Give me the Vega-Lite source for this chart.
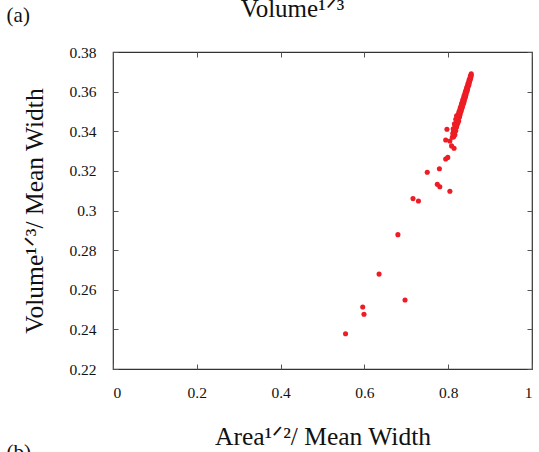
{
  "$schema": "https://vega.github.io/schema/vega-lite/v6.json",
  "autosize": {"type": "none"},
  "width": 419,
  "height": 317,
  "padding": {"left": 113, "top": 52, "right": 7, "bottom": 83},
  "background": "white",
  "title": {"text": "Volume¹ᐟ³", "font": "Liberation Serif", "fontSize": 25, "fontWeight": "normal", "color": "#111", "anchor": "middle", "offset": 0, "dy": 37, "dx": -30, "baseline": "alphabetic"},
  "config": {
    "view": {"stroke": "#333", "strokeWidth": 1.2},
    "axis": {"grid": false, "domain": false, "labelFont": "Liberation Serif", "labelFontSize": 15.5, "labelColor": "#111", "titleFont": "Liberation Serif", "titleFontSize": 25.5, "titleFontWeight": "normal", "titleColor": "#111", "tickColor": "#555", "tickSize": -5}
  },
  "data": {"values": [
    {"x": 0.555, "y": 0.2378},
    {"x": 0.596, "y": 0.2513},
    {"x": 0.599, "y": 0.2476},
    {"x": 0.635, "y": 0.2679},
    {"x": 0.697, "y": 0.2548},
    {"x": 0.680, "y": 0.2878},
    {"x": 0.716, "y": 0.3060},
    {"x": 0.729, "y": 0.3048},
    {"x": 0.750, "y": 0.3193},
    {"x": 0.779, "y": 0.3211},
    {"x": 0.774, "y": 0.3132},
    {"x": 0.780, "y": 0.3120},
    {"x": 0.804, "y": 0.3097},
    {"x": 0.794, "y": 0.3260},
    {"x": 0.799, "y": 0.3268},
    {"x": 0.797, "y": 0.3410},
    {"x": 0.794, "y": 0.3356},
    {"x": 0.804, "y": 0.3351},
    {"x": 0.808, "y": 0.3326},
    {"x": 0.814, "y": 0.3314},
    {"x": 0.810, "y": 0.3370}, {"x": 0.813, "y": 0.3372},
    {"x": 0.812, "y": 0.3380}, {"x": 0.816, "y": 0.3382},
    {"x": 0.811, "y": 0.3390}, {"x": 0.815, "y": 0.3392},
    {"x": 0.813, "y": 0.3400}, {"x": 0.818, "y": 0.3402},
    {"x": 0.815, "y": 0.3410}, {"x": 0.812, "y": 0.3412},
    {"x": 0.817, "y": 0.3420}, {"x": 0.820, "y": 0.3422},
    {"x": 0.816, "y": 0.3430}, {"x": 0.821, "y": 0.3432},
    {"x": 0.819, "y": 0.3440}, {"x": 0.823, "y": 0.3442}, {"x": 0.815, "y": 0.3438},
    {"x": 0.820, "y": 0.3450}, {"x": 0.825, "y": 0.3452},
    {"x": 0.818, "y": 0.3460}, {"x": 0.824, "y": 0.3462},
    {"x": 0.822, "y": 0.3470}, {"x": 0.827, "y": 0.3472},
    {"x": 0.823, "y": 0.3480}, {"x": 0.828, "y": 0.3482}, {"x": 0.820, "y": 0.3478},
    {"x": 0.825, "y": 0.3490}, {"x": 0.829, "y": 0.3492},
    {"x": 0.826, "y": 0.3500}, {"x": 0.831, "y": 0.3502},
    {"x": 0.828, "y": 0.3510}, {"x": 0.832, "y": 0.3512},
    {"x": 0.829, "y": 0.3520}, {"x": 0.834, "y": 0.3522},
    {"x": 0.831, "y": 0.3530}, {"x": 0.835, "y": 0.3532},
    {"x": 0.832, "y": 0.3540}, {"x": 0.837, "y": 0.3542},
    {"x": 0.834, "y": 0.3550}, {"x": 0.838, "y": 0.3552},
    {"x": 0.835, "y": 0.3560}, {"x": 0.839, "y": 0.3562},
    {"x": 0.837, "y": 0.3570}, {"x": 0.841, "y": 0.3572},
    {"x": 0.838, "y": 0.3580}, {"x": 0.842, "y": 0.3582},
    {"x": 0.840, "y": 0.3590}, {"x": 0.843, "y": 0.3592},
    {"x": 0.841, "y": 0.3600}, {"x": 0.845, "y": 0.3602},
    {"x": 0.843, "y": 0.3610}, {"x": 0.846, "y": 0.3612},
    {"x": 0.844, "y": 0.3620}, {"x": 0.847, "y": 0.3622},
    {"x": 0.846, "y": 0.3630}, {"x": 0.849, "y": 0.3632},
    {"x": 0.847, "y": 0.3640}, {"x": 0.850, "y": 0.3642},
    {"x": 0.849, "y": 0.3650}, {"x": 0.851, "y": 0.3652},
    {"x": 0.850, "y": 0.3660}, {"x": 0.853, "y": 0.3662},
    {"x": 0.852, "y": 0.3670}, {"x": 0.854, "y": 0.3672},
    {"x": 0.853, "y": 0.3680}, {"x": 0.855, "y": 0.3682},
    {"x": 0.855, "y": 0.3690}
  ]},
  "layer": [
    {
      "mark": {"type": "circle", "size": 26, "color": "#ee1c24", "opacity": 1},
      "encoding": {
        "x": {"field": "x", "type": "quantitative", "scale": {"domain": [0, 1], "nice": false, "zero": false},
              "axis": {"orient": "bottom", "values": [0, 0.2, 0.4, 0.6, 0.8, 1], "format": "~g", "labelPadding": 21, "title": "Area¹ᐟ²/ Mean Width", "titlePadding": 24}},
        "y": {"field": "y", "type": "quantitative", "scale": {"domain": [0.22, 0.38], "nice": false, "zero": false},
              "axis": {"orient": "left", "values": [0.22, 0.24, 0.26, 0.28, 0.3, 0.32, 0.34, 0.36, 0.38], "format": "~g", "labelPadding": 22, "title": "Volume¹ᐟ³/ Mean Width", "titlePadding": 21}}
      }
    },
    {
      "mark": {"type": "circle", "opacity": 0},
      "encoding": {
        "x": {"field": "x", "type": "quantitative", "axis": {"orient": "top", "values": [0, 0.2, 0.4, 0.6, 0.8, 1], "labels": false, "title": null}},
        "y": {"field": "y", "type": "quantitative", "axis": {"orient": "right", "values": [0.22, 0.24, 0.26, 0.28, 0.3, 0.32, 0.34, 0.36, 0.38], "labels": false, "title": null}}
      }
    },
    {
      "data": {"values": [{"label": "(a)"}]},
      "mark": {"type": "text", "font": "Liberation Serif", "fontSize": 21, "align": "left", "baseline": "alphabetic", "color": "#111"},
      "encoding": {"text": {"field": "label"}, "x": {"datum": -0.254, "axis": null}, "y": {"datum": 0.3951, "axis": null}}
    },
    {
      "data": {"values": [{"label": "(b)"}]},
      "mark": {"type": "text", "font": "Liberation Serif", "fontSize": 21, "align": "left", "baseline": "alphabetic", "color": "#111"},
      "encoding": {"text": {"field": "label"}, "x": {"datum": -0.254, "axis": null}, "y": {"datum": 0.1745, "axis": null}}
    }
  ],
  "resolve": {"axis": {"x": "independent", "y": "independent"}}
}
